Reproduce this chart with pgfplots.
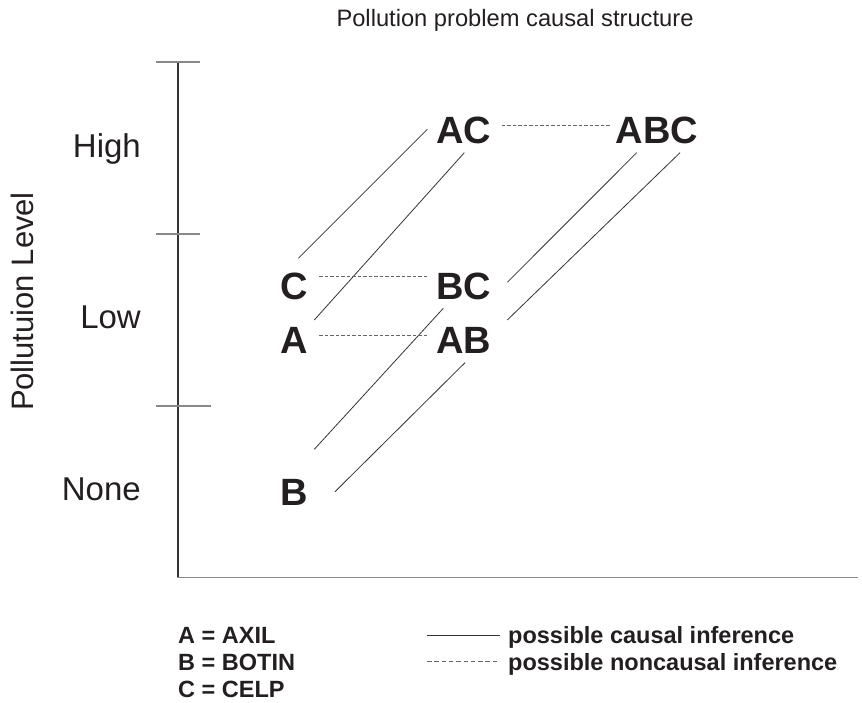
\documentclass[border=0pt]{standalone}
\usepackage{fontspec}
\setmainfont{Liberation Sans}
\usepackage{pgfplots}
\pgfplotsset{compat=1.18}
\definecolor{txt}{HTML}{231F20}
\definecolor{ln}{HTML}{333333}
\definecolor{dln}{HTML}{666666}
\definecolor{axg}{HTML}{888888}
\begin{document}
\begin{tikzpicture}
\begin{axis}[
  scale only axis, width=862pt, height=703pt,
  xmin=0, xmax=862, ymin=0, ymax=703, y dir=reverse,
  hide axis, clip=false,
  every axis plot/.append style={no marks},
]
% axis lines and ticks
\addplot[color=ln, line width=1.2pt] coordinates {(178,62) (178,577.5)};
\addplot[color=axg, line width=1.4pt] coordinates {(177.4,577.5) (858,577.5)};
\addplot[color=axg, line width=1.3pt] coordinates {(156,62) (200,62)};
\addplot[color=axg, line width=1.3pt] coordinates {(156,234) (200,234)};
\addplot[color=axg, line width=1.3pt] coordinates {(156,406) (211,406)};
% causal (solid) lines
\addplot[color=ln, line width=0.8pt] coordinates {(298.3,258.3) (427.3,129.3)};
\addplot[color=ln, line width=0.8pt] coordinates {(314.3,320) (464.3,152.7)};
\addplot[color=ln, line width=0.8pt] coordinates {(507.3,282.3) (636.7,152.7)};
\addplot[color=ln, line width=0.8pt] coordinates {(507.3,320) (680,152.7)};
\addplot[color=ln, line width=0.8pt] coordinates {(314.3,449.3) (443.3,308.3)};
\addplot[color=ln, line width=0.8pt] coordinates {(335,491.7) (465,362.7)};
% noncausal (dashed) lines
\addplot[color=dln, line width=0.8pt, dash pattern=on 3.5pt off 2pt] coordinates {(319.3,276.7) (427.7,276.7)};
\addplot[color=dln, line width=0.8pt, dash pattern=on 3.5pt off 2pt] coordinates {(319.3,335.7) (427.7,335.7)};
\addplot[color=dln, line width=0.8pt, dash pattern=on 3.5pt off 2pt] coordinates {(501.7,125.7) (610,125.7)};
% legend lines
\addplot[color=ln, line width=0.9pt] coordinates {(427,635.5) (500,635.5)};
\addplot[color=dln, line width=0.9pt, dash pattern=on 4.5pt off 2.8pt] coordinates {(427,661.5) (500,661.5)};
% texts
\node[anchor=base, inner sep=0pt, text=txt, font=\fontsize{23.7}{28}\selectfont] at (axis cs:515,27) {Pollution problem causal structure};
\node[anchor=base east, inner sep=0pt, text=txt, font=\fontsize{33}{40}\selectfont] at (axis cs:141,157.3) {High};
\node[anchor=base east, inner sep=0pt, text=txt, font=\fontsize{33}{40}\selectfont] at (axis cs:141,329) {Low};
\node[anchor=base east, inner sep=0pt, text=txt, font=\fontsize{33}{40}\selectfont] at (axis cs:141,500.5) {None};
\node[anchor=base, rotate=90, inner sep=0pt, text=txt, font=\fontsize{31}{38}\selectfont] at (axis cs:33,301.5) {Pollutuion Level};
\tikzset{lab/.style={anchor=base, inner sep=0pt, text=txt, font=\fontsize{38}{44}\selectfont\bfseries}}
\node[lab] at (axis cs:464,143.3) {AC};
\node[lab] at (axis cs:657,143.3) {ABC};
\node[lab] at (axis cs:294,299.3) {C};
\node[lab] at (axis cs:464,299.3) {BC};
\node[lab] at (axis cs:294,353.3) {A};
\node[lab] at (axis cs:464,353.3) {AB};
\node[lab] at (axis cs:294,505) {B};
\tikzset{key/.style={anchor=base west, inner sep=0pt, text=txt, font=\fontsize{23.5}{28}\selectfont\bfseries}}
\node[key] at (axis cs:178,643) {A = AXIL};
\node[key] at (axis cs:178,670) {B = BOTIN};
\node[key] at (axis cs:178,697) {C = CELP};
\node[key] at (axis cs:508,643) {possible causal inference};
\node[key] at (axis cs:508,670) {possible noncausal inference};
\end{axis}
\pgfresetboundingbox
\useasboundingbox (current axis.south west) rectangle (current axis.north east);
\end{tikzpicture}
\end{document}
